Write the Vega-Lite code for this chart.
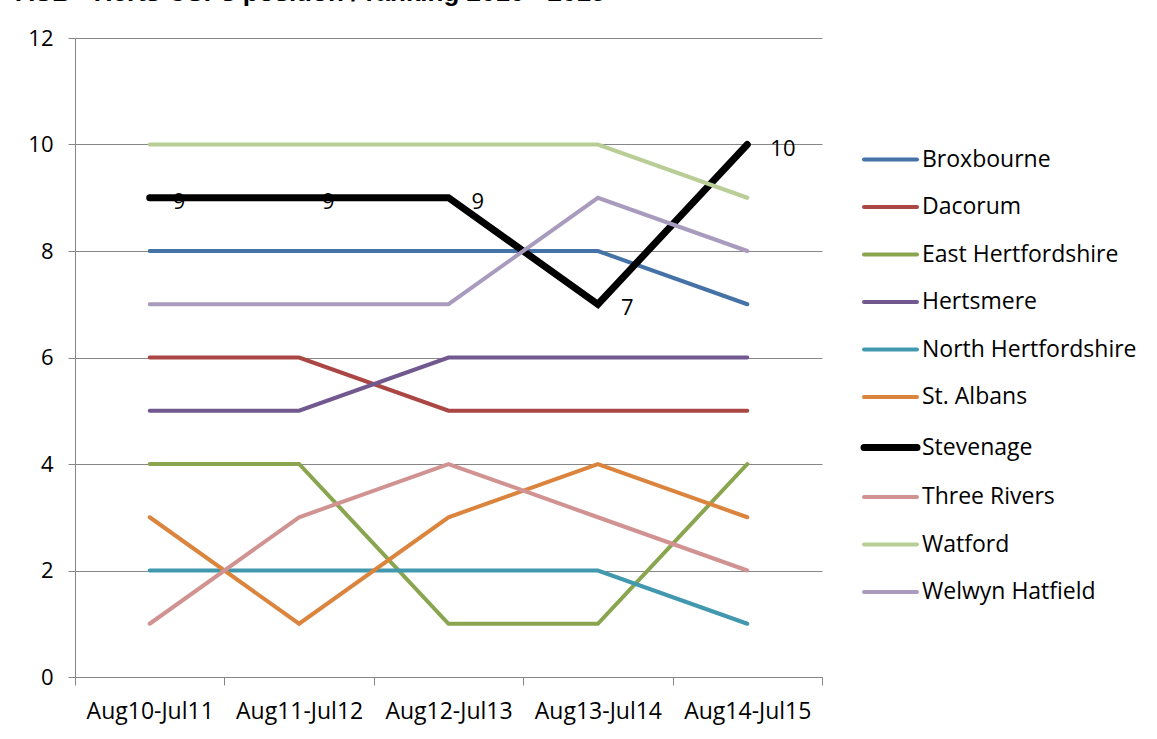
{
  "$schema": "https://vega.github.io/schema/vega-lite/v6.json",
  "width": 747,
  "height": 639,
  "autosize": {"type": "none"},
  "padding": {"left": 75, "top": 38, "right": 335, "bottom": 62},
  "background": "white",
  "title": {
    "text": "ASB - Herts CSPs position / ranking 2010 - 2015",
    "anchor": "start",
    "dx": -12,
    "offset": 0,
    "baseline": "alphabetic",
    "font": "Liberation Sans",
    "fontSize": 26,
    "fontWeight": "bold",
    "color": "#000000"
  },
  "config": {
    "view": {"stroke": null},
    "font": "Open Sans"
  },
  "data": {
    "values": [
      {"district": "Broxbourne", "period": "Aug10-Jul11", "rank": 8},
      {"district": "Broxbourne", "period": "Aug11-Jul12", "rank": 8},
      {"district": "Broxbourne", "period": "Aug12-Jul13", "rank": 8},
      {"district": "Broxbourne", "period": "Aug13-Jul14", "rank": 8},
      {"district": "Broxbourne", "period": "Aug14-Jul15", "rank": 7},
      {"district": "Dacorum", "period": "Aug10-Jul11", "rank": 6},
      {"district": "Dacorum", "period": "Aug11-Jul12", "rank": 6},
      {"district": "Dacorum", "period": "Aug12-Jul13", "rank": 5},
      {"district": "Dacorum", "period": "Aug13-Jul14", "rank": 5},
      {"district": "Dacorum", "period": "Aug14-Jul15", "rank": 5},
      {"district": "East Hertfordshire", "period": "Aug10-Jul11", "rank": 4},
      {"district": "East Hertfordshire", "period": "Aug11-Jul12", "rank": 4},
      {"district": "East Hertfordshire", "period": "Aug12-Jul13", "rank": 1},
      {"district": "East Hertfordshire", "period": "Aug13-Jul14", "rank": 1},
      {"district": "East Hertfordshire", "period": "Aug14-Jul15", "rank": 4},
      {"district": "Hertsmere", "period": "Aug10-Jul11", "rank": 5},
      {"district": "Hertsmere", "period": "Aug11-Jul12", "rank": 5},
      {"district": "Hertsmere", "period": "Aug12-Jul13", "rank": 6},
      {"district": "Hertsmere", "period": "Aug13-Jul14", "rank": 6},
      {"district": "Hertsmere", "period": "Aug14-Jul15", "rank": 6},
      {"district": "North Hertfordshire", "period": "Aug10-Jul11", "rank": 2},
      {"district": "North Hertfordshire", "period": "Aug11-Jul12", "rank": 2},
      {"district": "North Hertfordshire", "period": "Aug12-Jul13", "rank": 2},
      {"district": "North Hertfordshire", "period": "Aug13-Jul14", "rank": 2},
      {"district": "North Hertfordshire", "period": "Aug14-Jul15", "rank": 1},
      {"district": "St. Albans", "period": "Aug10-Jul11", "rank": 3},
      {"district": "St. Albans", "period": "Aug11-Jul12", "rank": 1},
      {"district": "St. Albans", "period": "Aug12-Jul13", "rank": 3},
      {"district": "St. Albans", "period": "Aug13-Jul14", "rank": 4},
      {"district": "St. Albans", "period": "Aug14-Jul15", "rank": 3},
      {"district": "Stevenage", "period": "Aug10-Jul11", "rank": 9},
      {"district": "Stevenage", "period": "Aug11-Jul12", "rank": 9},
      {"district": "Stevenage", "period": "Aug12-Jul13", "rank": 9},
      {"district": "Stevenage", "period": "Aug13-Jul14", "rank": 7},
      {"district": "Stevenage", "period": "Aug14-Jul15", "rank": 10},
      {"district": "Three Rivers", "period": "Aug10-Jul11", "rank": 1},
      {"district": "Three Rivers", "period": "Aug11-Jul12", "rank": 3},
      {"district": "Three Rivers", "period": "Aug12-Jul13", "rank": 4},
      {"district": "Three Rivers", "period": "Aug13-Jul14", "rank": 3},
      {"district": "Three Rivers", "period": "Aug14-Jul15", "rank": 2},
      {"district": "Watford", "period": "Aug10-Jul11", "rank": 10},
      {"district": "Watford", "period": "Aug11-Jul12", "rank": 10},
      {"district": "Watford", "period": "Aug12-Jul13", "rank": 10},
      {"district": "Watford", "period": "Aug13-Jul14", "rank": 10},
      {"district": "Watford", "period": "Aug14-Jul15", "rank": 9},
      {"district": "Welwyn Hatfield", "period": "Aug10-Jul11", "rank": 7},
      {"district": "Welwyn Hatfield", "period": "Aug11-Jul12", "rank": 7},
      {"district": "Welwyn Hatfield", "period": "Aug12-Jul13", "rank": 7},
      {"district": "Welwyn Hatfield", "period": "Aug13-Jul14", "rank": 9},
      {"district": "Welwyn Hatfield", "period": "Aug14-Jul15", "rank": 8}
    ]
  },
  "encoding": {
    "x": {
      "field": "period",
      "type": "nominal",
      "sort": null,
      "scale": {"type": "band", "paddingInner": 0, "paddingOuter": 0},
      "axis": {
        "title": null,
        "labelAngle": 0,
        "labelFontSize": 23,
        "labelColor": "#000000",
        "labelPadding": 15,
        "tickBand": "extent",
        "tickColor": "#868686",
        "tickSize": 8,
        "domainColor": "#868686",
        "grid": false
      }
    },
    "y": {
      "field": "rank",
      "type": "quantitative",
      "scale": {"domain": [0, 12], "nice": false},
      "axis": {
        "title": null,
        "values": [0, 2, 4, 6, 8, 10, 12],
        "labelFontSize": 22,
        "labelColor": "#000000",
        "labelPadding": 15,
        "tickColor": "#868686",
        "tickSize": 7,
        "domainColor": "#868686",
        "gridColor": "#868686",
        "gridOpacity": 1
      }
    }
  },
  "layer": [
    {
      "mark": {"type": "line", "strokeCap": "round", "strokeJoin": "miter"},
      "encoding": {
        "color": {
          "field": "district",
          "type": "nominal",
          "scale": {
            "domain": ["Broxbourne", "Dacorum", "East Hertfordshire", "Hertsmere", "North Hertfordshire", "St. Albans", "Stevenage", "Three Rivers", "Watford", "Welwyn Hatfield"],
            "range": ["#4572A7", "#AA4643", "#89A54E", "#71588F", "#4198AF", "#DB843D", "#000000", "#D19392", "#B9CD96", "#A99BBD"]
          },
          "legend": {
            "title": null,
            "orient": "none",
            "legendX": 804,
            "legendY": 110,
            "symbolType": "stroke",
            "symbolSize": 2809,
            "symbolStrokeWidth": 4,
            "labelFontSize": 23,
            "labelColor": "#000000",
            "labelOffset": 20,
            "rowPadding": 23.5,
            "labelLimit": 300,
            "encode": {
              "symbols": {
                "update": {
                  "strokeWidth": {"signal": "datum.value === 'Stevenage' ? 7 : 4"},
                  "strokeCap": {"value": "round"}
                }
              }
            }
          }
        },
        "strokeWidth": {
          "condition": {"test": "datum.district === 'Stevenage'", "value": 7},
          "value": 4
        }
      }
    },
    {
      "transform": [{"filter": "datum.district === 'Stevenage'"}],
      "mark": {
        "type": "text",
        "align": "left",
        "baseline": "middle",
        "dx": 23,
        "dy": 4,
        "fontSize": 22,
        "color": "#000000"
      },
      "encoding": {
        "text": {"field": "rank", "type": "quantitative"}
      }
    }
  ]
}
